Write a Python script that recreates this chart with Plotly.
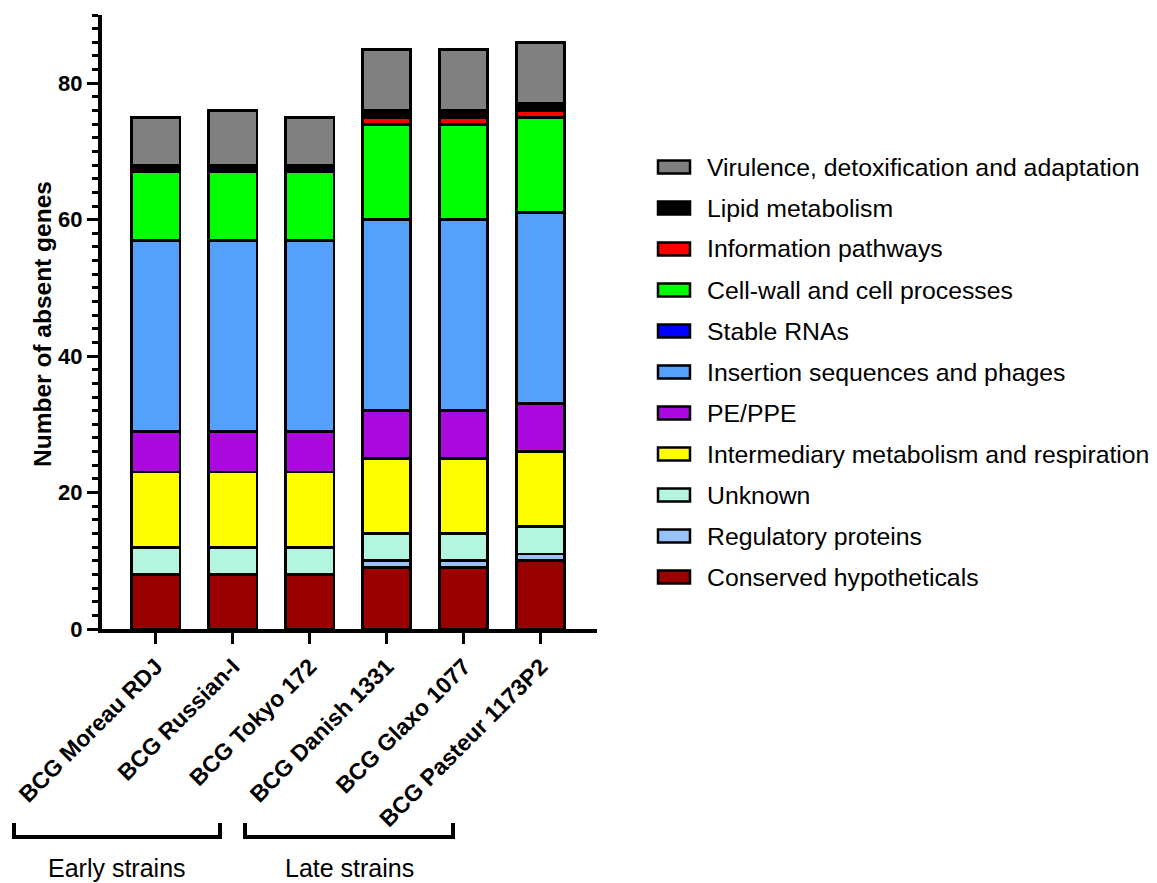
import plotly.graph_objects as go

# Strains and gene-function categories
strains = ["BCG Moreau RDJ", "BCG Russian-I", "BCG Tokyo 172",
           "BCG Danish 1331", "BCG Glaxo 1077", "BCG Pasteur 1173P2"]

conserved_hypotheticals = [8, 8, 8, 9, 9, 10]
regulatory_proteins = [0, 0, 0, 1, 1, 1]
unknown = [4, 4, 4, 4, 4, 4]
intermediary_metabolism = [11, 11, 11, 11, 11, 11]
pe_ppe = [6, 6, 6, 7, 7, 7]
insertion_sequences = [28, 28, 28, 28, 28, 28]
stable_rnas = [0, 0, 0, 0, 0, 0]
cell_wall = [10, 10, 10, 14, 14, 14]
information_pathways = [0, 0, 0, 1, 1, 1]
lipid_metabolism = [1, 1, 1, 1, 1, 1]
virulence = [7, 8, 7, 9, 9, 9]

series_names = ["Conserved hypotheticals", "Regulatory proteins", "Unknown",
                "Intermediary metabolism and respiration", "PE/PPE",
                "Insertion sequences and phages", "Stable RNAs",
                "Cell-wall and cell processes", "Information pathways",
                "Lipid metabolism", "Virulence, detoxification and adaptation"]
series_values = [conserved_hypotheticals, regulatory_proteins, unknown,
                 intermediary_metabolism, pe_ppe, insertion_sequences,
                 stable_rnas, cell_wall, information_pathways,
                 lipid_metabolism, virulence]
series_colors = ["#9B0000", "#99C2F7", "#B3F5DF", "#FFFF00", "#AA0ADD",
                 "#55A0FA", "#0000FF", "#00FF00", "#FF0000", "#000000",
                 "#808080"]

groups = [("Early strains", 14, 220), ("Late strains", 245, 453)]

FONT = "Liberation Sans, Arial, sans-serif"

# plot-area geometry in pixels
W_FIG, H_FIG = 1157, 883
L, R_EDGE, T, B_EDGE = 102, 597, 15, 629
PW, PH = R_EDGE - L, B_EDGE - T


def fx(p):
    return (p - L) / PW


def fy(p):
    return (B_EDGE - p) / PH


fig = go.Figure()
for name, vals, col in zip(series_names, series_values, series_colors):
    fig.add_trace(go.Bar(
        x=strains, y=vals, name=name,
        marker=dict(color=col, line=dict(color="black", width=2.8)),
        showlegend=False,
    ))

shapes = []
annotations = []

# legend: swatch + label, top entry is the last stacked series
row_y0, row_step = 167, 41
for i, (name, col) in enumerate(zip(series_names[::-1], series_colors[::-1])):
    cy = row_y0 + i * row_step
    shapes.append(dict(type="rect", xref="paper", yref="paper",
                       x0=fx(658), x1=fx(690), y0=fy(cy + 6.5), y1=fy(cy - 6.5),
                       fillcolor=col, line=dict(color="black", width=2.5)))
    annotations.append(dict(xref="paper", yref="paper", x=fx(705), y=fy(cy),
                            text=name, showarrow=False, xanchor="left",
                            yanchor="middle",
                            font=dict(family=FONT, size=24.8, color="black")))

# group brackets below the strain labels
for label, x0, x1 in groups:
    path = (f"M {fx(x0)},{fy(823)} L {fx(x0)},{fy(837)} "
            f"L {fx(x1)},{fy(837)} L {fx(x1)},{fy(823)}")
    shapes.append(dict(type="path", xref="paper", yref="paper", path=path,
                       line=dict(color="black", width=4)))
    annotations.append(dict(xref="paper", yref="paper", x=fx((x0 + x1) / 2),
                            y=fy(868), text=label, showarrow=False,
                            xanchor="center", yanchor="middle",
                            font=dict(family=FONT, size=25, color="black")))

# y-axis title
annotations.append(dict(xref="paper", yref="paper", x=fx(42), y=fy(324),
                        text="Number of absent genes", showarrow=False,
                        textangle=-90, xanchor="center", yanchor="middle",
                        font=dict(family=FONT, size=24.5, color="black",
                                  weight="bold")))

fig.update_layout(
    width=W_FIG, height=H_FIG,
    margin=dict(l=L, r=W_FIG - R_EDGE, t=T, b=H_FIG - B_EDGE, pad=0),
    barmode="stack", bargap=0.375,
    plot_bgcolor="white", paper_bgcolor="white",
    font=dict(family=FONT, color="black"),
    shapes=shapes, annotations=annotations,
    xaxis=dict(
        range=[-0.7, 5.73], showline=True, linewidth=4, linecolor="black",
        ticks="outside", ticklen=11, tickwidth=3, tickcolor="black",
        tickangle=-45, showgrid=False, zeroline=False,
        tickfont=dict(family=FONT, size=23, color="black", weight="bold"),
    ),
    yaxis=dict(
        range=[0, 90], showline=True, linewidth=4, linecolor="black",
        tickmode="array", tickvals=[0, 20, 40, 60, 80],
        ticks="outside", ticklen=11, tickwidth=3, tickcolor="black",
        minor=dict(dtick=2, ticks="outside", ticklen=6, tickwidth=3,
                   tickcolor="black", showgrid=False),
        showgrid=False, zeroline=False,
        tickfont=dict(family=FONT, size=22, color="black", weight="bold"),
    ),
)

fig.write_html("out.html")
